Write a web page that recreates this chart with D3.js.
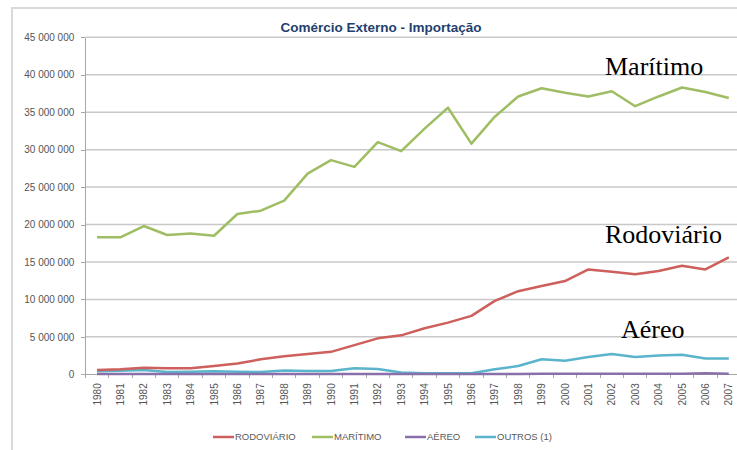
<!DOCTYPE html>
<meta charset="utf-8">
<style>
body { margin: 0; background: #fff; }
svg { display: block; font-family: "Liberation Sans", Arial, sans-serif; }
.grid line { stroke: #c8c8c8; stroke-width: 1.5; }
.axis path, .axis line { stroke: #a6a6a6; shape-rendering: crispEdges; }
.axis text { fill: #555; }
.serie { fill: none; stroke-width: 2.5; stroke-linejoin: round; }
.anot { font-family: "Liberation Serif", "Times New Roman", serif; font-size: 26px; fill: #000; }
</style>
<body></body>
<script src="https://cdnjs.cloudflare.com/ajax/libs/d3/7.8.5/d3.min.js"></script>
<script>
// dados (toneladas)
var anos = ["1980","1981","1982","1983","1984","1985","1986","1987","1988","1989",
            "1990","1991","1992","1993","1994","1995","1996","1997","1998","1999",
            "2000","2001","2002","2003","2004","2005","2006","2007"];
var rodoviario = [570000,670000,880000,800000,800000,1100000,1450000,2000000,2400000,2700000,
                  3000000,3900000,4800000,5200000,6140000,6900000,7800000,9800000,11100000,11800000,
                  12450000,14000000,13700000,13350000,13800000,14500000,14000000,15600000];
var maritimo = [18300000,18300000,19800000,18600000,18800000,18500000,21400000,21850000,23200000,26800000,
                28600000,27700000,31000000,29800000,32800000,35600000,30800000,34400000,37100000,38200000,
                37600000,37100000,37800000,35800000,37100000,38300000,37700000,36900000];
var aereo = [50000,50000,50000,50000,50000,50000,50000,50000,50000,50000,
             50000,50000,50000,50000,50000,50000,50000,50000,50000,60000,
             60000,60000,70000,70000,70000,80000,150000,90000];
var outros = [400000,480000,560000,300000,350000,400000,350000,300000,500000,450000,
              450000,800000,700000,250000,150000,150000,150000,670000,1100000,2000000,
              1800000,2300000,2700000,2300000,2500000,2600000,2100000,2100000];
var yTicks = [0,5000000,10000000,15000000,20000000,25000000,30000000,35000000,40000000,45000000];

var series = [
  {nome: "RODOVIÁRIO", valores: rodoviario, cor: "#cd5f5c"},
  {nome: "MARÍTIMO",   valores: maritimo,   cor: "#9fbd62"},
  {nome: "AÉREO",      valores: aereo,      cor: "#8a70aa"},
  {nome: "OUTROS (1)", valores: outros,     cor: "#5ab4cc"}
];

var W = 737, H = 450;
var plot = {left: 85.3, right: 740.5, top: 37.3, bottom: 374.3};

var svg = d3.select("body").append("svg")
    .attr("width", W)
    .attr("height", H);

// moldura
svg.append("rect")
    .attr("x", 12).attr("y", 8)
    .attr("width", W + 20).attr("height", H + 20)
    .attr("fill", "#fff")
    .attr("stroke", "#d9d9d9")
    .attr("stroke-width", 2);

var x = d3.scaleBand().domain(anos).range([plot.left, plot.right]);
var y = d3.scaleLinear().domain([0, 45000000]).range([plot.bottom, plot.top]);

var fmt = function(d) { return d3.format(",")(d).replace(/,/g, " "); };

// grelha
svg.append("g")
    .attr("class", "grid")
    .selectAll("line")
    .data(yTicks.slice(1))
    .enter().append("line")
    .attr("x1", plot.left).attr("x2", plot.right)
    .attr("y1", function(d) { return y(d); })
    .attr("y2", function(d) { return y(d); });

// eixo y
var yAxis = svg.append("g")
    .attr("class", "axis")
    .attr("transform", "translate(" + plot.left + ",0)")
    .call(d3.axisLeft(y).tickValues(yTicks).tickFormat(fmt).tickSize(4).tickSizeOuter(0).tickPadding(7));
yAxis.selectAll("text").style("font-size", "10px");

// eixo x
var xAxis = svg.append("g")
    .attr("class", "axis")
    .attr("transform", "translate(0," + plot.bottom + ")")
    .call(d3.axisBottom(x).tickSize(0).tickSizeOuter(0).tickPadding(0));
xAxis.selectAll("text")
    .style("font-size", "10px")
    .style("text-anchor", "end")
    .attr("transform", "rotate(-90)")
    .attr("x", -9)
    .attr("y", 0)
    .attr("dy", "0.35em");
// marcas entre categorias
xAxis.selectAll(".sep")
    .data(anos)
    .enter().append("line")
    .attr("class", "sep")
    .attr("x1", function(d) { return x(d); })
    .attr("x2", function(d) { return x(d); })
    .attr("y1", 0).attr("y2", 4);

// linhas
var line = d3.line()
    .x(function(d, i) { return x(anos[i]) + x.bandwidth() / 2; })
    .y(function(d) { return y(d); });

svg.selectAll(".serie")
    .data(series.slice().reverse())
    .enter().append("path")
    .attr("class", "serie")
    .attr("stroke", function(d) { return d.cor; })
    .attr("d", function(d) { return line(d.valores); });

// titulo
svg.append("text")
    .attr("x", 381).attr("y", 32)
    .attr("text-anchor", "middle")
    .style("font-size", "13.5px")
    .style("font-weight", "bold")
    .style("fill", "#243f6e")
    .text("Comércio Externo - Importação");

// legenda
var legX = [213, 312, 405, 475];
var leg = svg.selectAll(".leg")
    .data(series)
    .enter().append("g")
    .attr("class", "leg")
    .attr("transform", function(d, i) { return "translate(" + legX[i] + ",437)"; });
leg.append("line")
    .attr("x1", 0).attr("x2", 21)
    .attr("stroke", function(d) { return d.cor; })
    .attr("stroke-width", 2.5);
leg.append("text")
    .attr("x", 22).attr("dy", "0.35em")
    .style("font-size", "9.5px")
    .style("fill", "#595959")
    .text(function(d) { return d.nome; });

// anotacoes
svg.append("text").attr("class", "anot").attr("x", 605).attr("y", 75).text("Marítimo");
svg.append("text").attr("class", "anot").attr("x", 605).attr("y", 243).text("Rodoviário");
svg.append("text").attr("class", "anot").attr("x", 621).attr("y", 338).text("Aéreo");
</script>
